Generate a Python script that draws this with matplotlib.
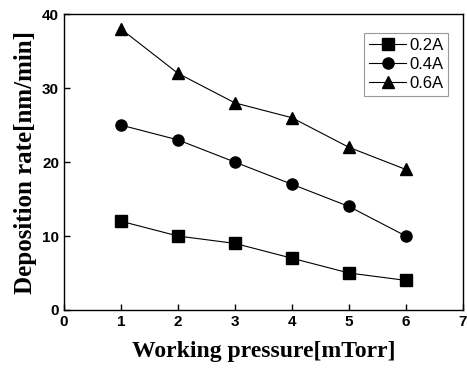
import matplotlib.pyplot as plt

pressure = [1, 2, 3, 4, 5, 6]
rate_02 = [12, 10, 9, 7, 5, 4]
rate_04 = [25, 23, 20, 17, 14, 10]
rate_06 = [38, 32, 28, 26, 22, 19]
labels = ['0.2A', '0.4A', '0.6A']
markers = ['s', 'o', '^']

fig = plt.figure(figsize=(4.67, 3.73), dpi=100)
ax = fig.add_axes([0.137, 0.169, 0.854, 0.793])

for y, lab, m in zip([rate_02, rate_04, rate_06], labels, markers):
    ax.plot(pressure, y, color='black', lw=0.8, marker=m, ms=8, label=lab)

ax.set_xlim(0, 7)
ax.set_ylim(0, 40)
ax.set_xticks(range(0, 8))
ax.set_yticks([0, 10, 20, 30, 40])
ax.tick_params(direction='in', length=4, width=1, labelsize=11)
for t in ax.get_xticklabels() + ax.get_yticklabels():
    t.set_fontweight('bold')
    t.set_family('Liberation Sans')
for s in ax.spines.values():
    s.set_linewidth(1)

ax.set_xlabel('Working pressure[mTorr]', family='Liberation Serif',
              fontweight='bold', fontsize=17, labelpad=9)
ax.set_ylabel('Deposition rate[nm/min]', family='Liberation Serif',
              fontweight='bold', fontsize=18, labelpad=4)

leg = ax.legend(loc='upper right', bbox_to_anchor=(0.985, 0.965), fancybox=False,
                edgecolor='gray', prop={'family': 'Liberation Sans', 'size': 12},
                handlelength=2.2, handletextpad=0.2, borderpad=0.3, labelspacing=0.25)
leg.get_frame().set_linewidth(0.8)

fig.savefig('out.png', dpi=100)
